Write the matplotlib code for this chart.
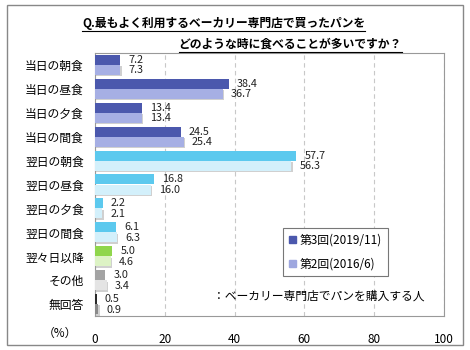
import numpy as np
import matplotlib
matplotlib.use("Agg")
import matplotlib.pyplot as plt
from matplotlib.patches import Rectangle

plt.rcParams['font.family'] = ['Noto Sans CJK JP', 'DejaVu Sans']

categories = ["当日の朝食", "当日の昼食", "当日の夕食", "当日の間食", "翌日の朝食", "翌日の昼食",
              "翌日の夕食", "翌日の間食", "翌々日以降", "その他", "無回答"]
vals_2019 = [7.2, 38.4, 13.4, 24.5, 57.7, 16.8, 2.2, 6.1, 5.0, 3.0, 0.5]
vals_2016 = [7.3, 36.7, 13.4, 25.4, 56.3, 16.0, 2.1, 6.3, 4.6, 3.4, 0.9]
series_names = ["第3回(2019/11)", "第2回(2016/6)"]
xticks = [0, 20, 40, 60, 80, 100]

# colour per group: (2019, 2016)
group_colors = ([("#4b58ad", "#a6afe4")] * 4 +
                [("#5cc9ee", "#d3f0fb")] * 4 +
                [("#90d64c", "#ddf3c5")] +
                [("#a3a3a3", "#e4e4e4")] +
                [("#2a2a2a", "#8a8a8a")])

fig = plt.figure(figsize=(4.7, 3.5), dpi=100)
# outer frame
fig.patches.append(Rectangle((7 / 470, 5 / 350), 456 / 470, 340 / 350, transform=fig.transFigure,
                             fill=False, edgecolor="#888888", linewidth=1.0))

ax = fig.add_axes([95 / 470, 1 - 316 / 350, 349 / 470, 263 / 350])
y = np.arange(len(categories))
h = 0.42
for i in y:
    c1, c2 = group_colors[i]
    ax.barh(i - h / 2, vals_2019[i], height=h, color=c1, zorder=3)
    ax.barh(i + h / 2, vals_2016[i], height=h, color=c2, zorder=3)
    # slight shadow
    ax.barh(i + h / 2 + 0.06, vals_2016[i] + 0.4, height=h, color="#d0d0d0", zorder=2)
    ax.text(vals_2019[i] + 2.3, i - 0.21, f"{vals_2019[i]:.1f}", va="center", ha="left",
            fontsize=7.8, color="#222222", zorder=4)
    ax.text(vals_2016[i] + 2.3, i + 0.23, f"{vals_2016[i]:.1f}", va="center", ha="left",
            fontsize=7.8, color="#222222", zorder=4)

ax.set_xlim(0, 100)
ax.set_ylim(len(categories) - 0.5, -0.5)
ax.set_xticks(xticks)
ax.set_xticklabels([str(t) for t in xticks], fontsize=8.5)
ax.set_yticks(y)
ax.set_yticklabels(categories, fontsize=8.5)
ax.tick_params(length=0, pad=8)
ax.tick_params(axis="x", pad=12)
ax.grid(axis="x", linestyle=(0, (4, 3)), color="#c8c8c8", linewidth=0.8, zorder=0)
for s in ax.spines.values():
    s.set_color("#999999")
    s.set_linewidth(0.8)

fig.text(43 / 470, 1 - 333 / 350, "（%）", fontsize=8.5, va="center", ha="left")

# legend
leg_handles = [Rectangle((0, 0), 1, 1, color="#4b58ad"), Rectangle((0, 0), 1, 1, color="#9ea7df")]
leg = ax.legend(leg_handles, series_names, loc="upper left",
                bbox_to_anchor=((277 - 95) / 349, (316 - 222) / 263), fontsize=8.5,
                handlelength=0.6, handleheight=0.6, handletextpad=0.3, borderpad=0.5,
                labelspacing=0.9, fancybox=False, framealpha=1)
leg.get_frame().set_edgecolor("#777777")
leg.get_frame().set_linewidth(0.8)

ax.text(213 / 470, 1 - 296 / 350, "：ベーカリー専門店でパンを購入する人", transform=fig.transFigure,
        fontsize=8.5, va="center", ha="left")

# title with underline
t1 = fig.text(82 / 470, 1 - 23 / 350, "Q.最もよく利用するベーカリー専門店で買ったパンを",
              fontsize=8.5, fontweight="bold", va="center", ha="left")
t2 = fig.text(402 / 470, 1 - 44 / 350, "どのような時に食べることが多いですか？",
              fontsize=8.5, fontweight="bold", va="center", ha="right")
fig.canvas.draw()
r = fig.canvas.get_renderer()
for t in (t1, t2):
    bb = t.get_window_extent(renderer=r).transformed(fig.transFigure.inverted())
    fig.lines.append(plt.Line2D([bb.x0, bb.x1], [bb.y0 - 0.004, bb.y0 - 0.004],
                                transform=fig.transFigure, color="black", linewidth=0.8))

fig.savefig("out.png", dpi=100)
